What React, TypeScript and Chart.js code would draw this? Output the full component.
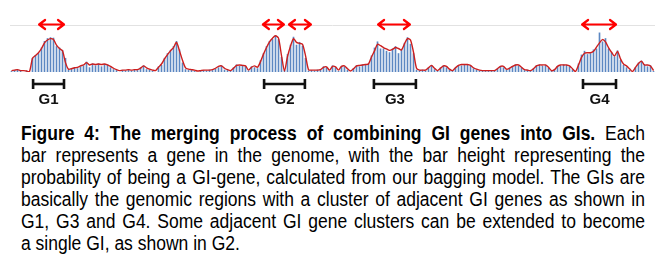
import React, { useEffect, useRef } from "react";
import { Chart, registerables } from "chart.js";
Chart.register(...registerables);

// probability of being a GI-gene per gene (bars)
const probability = [
  0.02, 0.04, 0.06, 0.03, 0.0, 0.03, 0.0, 0.3, 0.36, 0.4,
  0.52, 0.66, 0.72, 0.74, 0.73, 0.55, 0.52, 0.47, 0.3, 0.05,
  0.08, 0.1, 0.08, 0.12, 0.14, 0.22, 0.1, 0.18, 0.14, 0.18,
  0.12, 0.17, 0.16, 0.1, 0.06, 0.04, 0.0, 0.04, 0.03, 0.06,
  0.03, 0.05, 0.04, 0.1, 0.14, 0.06, 0.05, 0.02, 0.0, 0.12,
  0.15, 0.3, 0.4, 0.47, 0.55, 0.66, 0.48, 0.2, 0.06, 0.04,
  0.05, 0.02, 0.0, 0.03, 0.04, 0.03, 0.05, 0.04, 0.07, 0.1,
  0.14, 0.05, 0.04, 0.02, 0.1, 0.16, 0.13, 0.15, 0.12, 0.03,
  0.12, 0.1, 0.08, 0.25, 0.4, 0.55, 0.66, 0.7, 0.78, 0.7,
  0.32, 0.04, 0.38, 0.58, 0.75, 0.58, 0.64, 0.56, 0.3, 0.03,
  0.04, 0.03, 0.05, 0.06, 0.12, 0.1, 0.03, 0.14, 0.1, 0.02,
  0.13, 0.12, 0.05, 0.0, 0.08, 0.14, 0.12, 0.16, 0.15, 0.18,
  0.35, 0.52, 0.65, 0.5, 0.5, 0.45, 0.42, 0.5, 0.55, 0.4,
  0.48, 0.62, 0.74, 0.6, 0.4, 0.05, 0.03, 0.05, 0.03, 0.1,
  0.15, 0.06, 0.02, 0.1, 0.14, 0.1, 0.05, 0.02, 0.1, 0.15,
  0.14, 0.17, 0.15, 0.13, 0.08, 0.05, 0.03, 0.04, 0.02, 0.04,
  0.03, 0.04, 0.08, 0.13, 0.1, 0.05, 0.09, 0.13, 0.16, 0.14,
  0.1, 0.04, 0.05, 0.02, 0.08, 0.14, 0.16, 0.13, 0.15, 0.09,
  0.02, 0.06, 0.13, 0.14, 0.16, 0.15, 0.12, 0.06, 0.0, 0.18,
  0.37, 0.45, 0.38, 0.4, 0.48, 0.5, 0.84, 0.65, 0.72, 0.5,
  0.42, 0.33, 0.46, 0.26, 0.15, 0.1, 0.05, 0.0, 0.1, 0.2,
  0.24, 0.16, 0.12, 0.14, 0.02,
];

// smoothed probability (red line)
const smoothed = [
  0.03, 0.04, 0.05, 0.03, 0.03, 0.02, 0.01, 0.29, 0.35, 0.41,
  0.5, 0.62, 0.68, 0.71, 0.69, 0.57, 0.5, 0.45, 0.2, 0.06,
  0.07, 0.09, 0.1, 0.13, 0.15, 0.2, 0.15, 0.17, 0.16, 0.17,
  0.16, 0.17, 0.15, 0.12, 0.08, 0.05, 0.03, 0.04, 0.04, 0.05,
  0.04, 0.05, 0.05, 0.08, 0.13, 0.09, 0.06, 0.04, 0.03, 0.1,
  0.17, 0.28, 0.37, 0.45, 0.52, 0.63, 0.45, 0.25, 0.09, 0.06,
  0.05, 0.04, 0.02, 0.03, 0.04, 0.04, 0.04, 0.05, 0.08, 0.12,
  0.13, 0.08, 0.05, 0.03, 0.08, 0.14, 0.15, 0.14, 0.13, 0.04,
  0.1, 0.13, 0.1, 0.22, 0.38, 0.52, 0.64, 0.72, 0.77, 0.72,
  0.35, 0.02, 0.33, 0.55, 0.71, 0.63, 0.61, 0.59, 0.35, 0.05,
  0.04, 0.04, 0.04, 0.05, 0.1, 0.11, 0.04, 0.12, 0.11, 0.04,
  0.12, 0.13, 0.07, 0.02, 0.07, 0.13, 0.14, 0.15, 0.16, 0.17,
  0.32, 0.45, 0.59, 0.56, 0.52, 0.49, 0.46, 0.48, 0.52, 0.5,
  0.47, 0.6, 0.71, 0.68, 0.42, 0.08, 0.04, 0.04, 0.04, 0.09,
  0.14, 0.08, 0.03, 0.08, 0.13, 0.12, 0.06, 0.03, 0.09, 0.14,
  0.16, 0.16, 0.16, 0.14, 0.09, 0.06, 0.04, 0.03, 0.03, 0.03,
  0.03, 0.03, 0.07, 0.12, 0.12, 0.06, 0.08, 0.12, 0.15, 0.15,
  0.1, 0.05, 0.04, 0.03, 0.07, 0.13, 0.15, 0.15, 0.15, 0.1,
  0.03, 0.05, 0.12, 0.15, 0.15, 0.15, 0.13, 0.07, 0.01, 0.15,
  0.31, 0.4, 0.41, 0.41, 0.44, 0.53, 0.62, 0.69, 0.64, 0.52,
  0.42, 0.34, 0.44, 0.28, 0.17, 0.13, 0.07, 0.01, 0.1, 0.18,
  0.23, 0.15, 0.15, 0.13, 0.03,
];

const genes = probability.map((_, i) => String(i + 1));

// GI regions (gene index ranges) and labels
const regionLabels = ["G1", "G2", "G3", "G4"];
const regionStart = [7.2, 84.2, 120.8, 190.5];
const regionEnd = [17.5, 97.8, 134.8, 201.5];

// merged clusters (red double arrows), gene index ranges
const arrowStart = [9.2, 83.8, 92.5, 122.2, 190.2];
const arrowEnd = [17.5, 90.8, 99.8, 132.8, 201.5];

const annotations = {
  id: "giAnnotations",
  beforeDatasetsDraw(chart: any) {
    const { ctx, chartArea } = chart;
    const y = chart.scales.y.getPixelForValue(1);
    ctx.save();
    ctx.strokeStyle = "#e2e2e2";
    ctx.lineWidth = 1;
    ctx.beginPath();
    ctx.moveTo(chartArea.left, Math.round(y) + 0.5);
    ctx.lineTo(chartArea.right, Math.round(y) + 0.5);
    ctx.stroke();
    ctx.restore();
  },
  afterDraw(chart: any) {
    const { ctx } = chart;
    const xs = chart.scales.x;
    const yTop = chart.scales.y.getPixelForValue(1) - 0.5;
    ctx.save();
    // arrows
    ctx.strokeStyle = "#ff0000";
    ctx.lineWidth = 2.2;
    ctx.lineCap = "round";
    ctx.lineJoin = "round";
    for (let k = 0; k < arrowStart.length; k++) {
      const x1 = xs.getPixelForValue(arrowStart[k]);
      const x2 = xs.getPixelForValue(arrowEnd[k]);
      ctx.beginPath();
      ctx.moveTo(x1, yTop);
      ctx.lineTo(x2, yTop);
      ctx.moveTo(x1 + 6, yTop - 4.5);
      ctx.lineTo(x1, yTop);
      ctx.lineTo(x1 + 6, yTop + 4.5);
      ctx.moveTo(x2 - 6, yTop - 4.5);
      ctx.lineTo(x2, yTop);
      ctx.lineTo(x2 - 6, yTop + 4.5);
      ctx.stroke();
    }
    // brackets + labels
    const by = chart.chartArea.bottom + 12;
    ctx.strokeStyle = "#111111";
    ctx.lineCap = "butt";
    ctx.fillStyle = "#111111";
    ctx.font = "bold 15px 'Liberation Sans', Arial, sans-serif";
    ctx.textAlign = "center";
    ctx.textBaseline = "middle";
    for (let k = 0; k < regionLabels.length; k++) {
      const x1 = xs.getPixelForValue(regionStart[k]);
      const x2 = xs.getPixelForValue(regionEnd[k]);
      ctx.lineWidth = 2.6;
      ctx.beginPath();
      ctx.moveTo(x1, by);
      ctx.lineTo(x2, by);
      ctx.stroke();
      ctx.beginPath();
      ctx.moveTo(x1, by - 5);
      ctx.lineTo(x1, by + 5);
      ctx.moveTo(x2, by - 5);
      ctx.lineTo(x2, by + 5);
      ctx.stroke();
      ctx.fillText(regionLabels[k], (x1 + x2) / 2, by + 16);
    }
    ctx.restore();
  },
};

const captionLines = [
  "bar represents a gene in the genome, with the bar height representing the",
  "probability of being a GI-gene, calculated from our bagging model. The GIs are",
  "basically the genomic regions with a cluster of adjacent GI genes as shown in",
  "G1, G3 and G4. Some adjacent GI gene clusters can be extended to become",
];

const NARROW = 0.875;

export default function App() {
  const ref = useRef<HTMLCanvasElement | null>(null);
  useEffect(() => {
    if (!ref.current) return;
    const chart = new Chart(ref.current, {
      type: "bar",
      data: {
        labels: genes,
        datasets: [
          {
            type: "line",
            data: smoothed,
            borderColor: "#cc1f1f",
            borderWidth: 1.4,
            pointRadius: 0,
            tension: 0.25,
            order: 0,
          } as any,
          {
            type: "bar",
            data: probability,
            backgroundColor: "#5b87c2",
            barPercentage: 0.55,
            categoryPercentage: 1,
            order: 1,
          },
        ],
      },
      options: {
        responsive: false,
        animation: false,
        layout: { padding: { left: 2, right: 2, top: 17, bottom: 46 } },
        plugins: { legend: { display: false }, tooltip: { enabled: false } },
        scales: {
          x: { display: false },
          y: { display: false, min: 0, max: 1 },
        },
      },
      plugins: [annotations],
    });
    return () => chart.destroy();
  }, []);

  const lineStyle: React.CSSProperties = {
    width: 624 / NARROW,
    textAlign: "justify",
    textAlignLast: "justify" as any,
    whiteSpace: "nowrap",
    wordSpacing: "-1px",
    height: 22,
    transform: `scaleX(${NARROW})`,
    transformOrigin: "0 0",
  };

  return (
    <div style={{ width: 649 }}>
      <canvas ref={ref} width={649} height={110} style={{ display: "block", width: 649, height: 110 }} />
      <div
        style={{
          marginTop: 4,
          marginLeft: 13,
          width: 624,
          fontFamily: "'Liberation Sans', Arial, sans-serif",
          fontSize: 20,
          lineHeight: "22px",
          color: "#000",
        }}
      >
        <div style={lineStyle}>
          <b>Figure 4: The merging process of combining GI genes into GIs.</b> Each
        </div>
        {captionLines.map((t, i) => (
          <div key={i} style={lineStyle}>
            {t}
          </div>
        ))}
        <div style={{ ...lineStyle, textAlign: "left", textAlignLast: "left" as any, wordSpacing: "0px" }}>
          a single GI, as shown in G2.
        </div>
      </div>
    </div>
  );
}
